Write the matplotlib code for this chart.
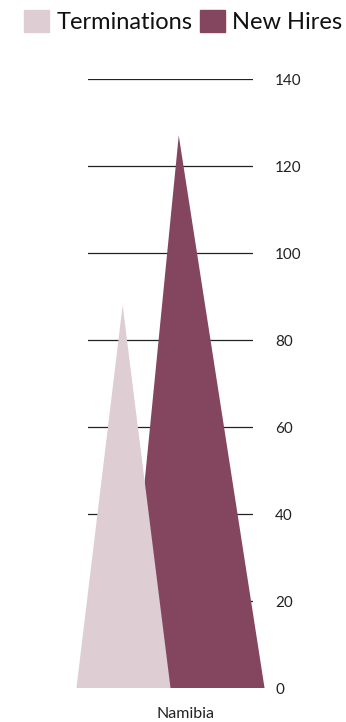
import matplotlib.pyplot as plt
from matplotlib.patches import Polygon
from matplotlib.transforms import offset_copy

# data
categories = ['Namibia']
series = ['Terminations', 'New Hires']
values = [88, 127]
colors = ['#dfcdd4', '#84455e']
yticks = [0, 20, 40, 60, 80, 100, 120, 140]

# triangle shape per series: (base left, apex, base right) as offsets from category center
shapes = [(-0.57, -0.29, 0.0), (-0.28, 0.05, 0.57)]

plt.rcParams['font.family'] = ['Lato', 'DejaVu Sans']

W, H = 346, 722
fig = plt.figure(figsize=(W / 100, H / 100), dpi=100)
ax = fig.add_axes([88 / W, (H - 688) / H, (253 - 88) / W, (688 - 79) / H])
ax.set_xlim(-0.5, 0.5)
ax.set_ylim(0, 140)

for t in yticks:
    if t == 0:
        ax.axhline(t, color='#aaaaaa', lw=0.8, zorder=0)
    else:
        ax.axhline(t, color='#222222', lw=0.9, zorder=0)

for i, cat in enumerate(categories):
    # draw New Hires first so Terminations sits in front
    for k in [1, 0]:
        l, a, r = shapes[k]
        tri = Polygon([(i + l, 0), (i + a, values[k]), (i + r, 0)], closed=True,
                      facecolor=colors[k], edgecolor='none', clip_on=False, zorder=2 + (1 - k))
        ax.add_patch(tri)

for s in ax.spines.values():
    s.set_visible(False)
ax.set_xticks([])
ax.set_yticks([])

lab_tr = offset_copy(ax.get_yaxis_transform(), fig=fig, x=0, y=-2, units='dots')
for t in yticks:
    ax.text(1.135, t, str(t), transform=lab_tr, ha='left', va='center',
            fontsize=11, color='#222222')

ax.text(0.588, -0.042, categories[0], transform=ax.transAxes, ha='center', va='center',
        fontsize=11.5, color='#222222')

handles = [plt.Rectangle((0, 0), 1, 1, color=c) for c in colors]
fig.legend(handles, series, loc='upper center', bbox_to_anchor=(0.53, 1.015), ncol=2,
           frameon=False, fontsize=17, handlelength=1.05, handleheight=1.05,
           handletextpad=0.3, columnspacing=0.35, labelcolor='#111111')

fig.savefig('out.png', dpi=100)
